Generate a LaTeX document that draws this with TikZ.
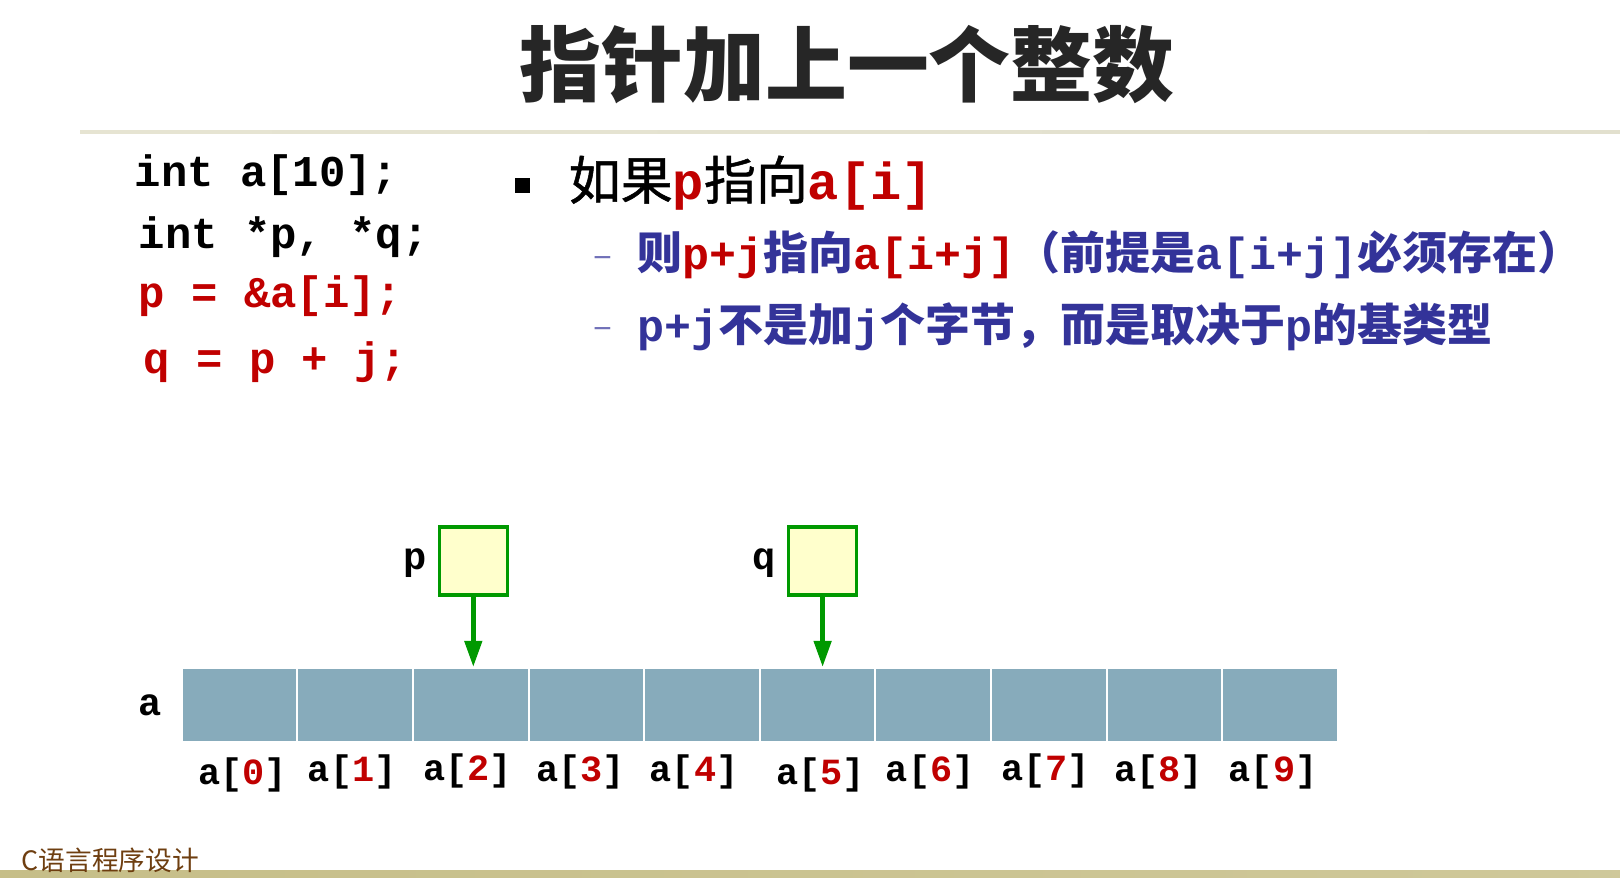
\documentclass[tikz,border=0pt]{standalone}
\usepackage{fontspec}
\setmainfont{Noto Sans CJK SC}
\setmonofont{Liberation Mono}
\newfontfamily\midcjk{Noto Sans CJK SC}[FakeBold=1]
\usepackage{tikz}
\usetikzlibrary{arrows.meta,positioning}
\definecolor{codered}{RGB}{192,0,0}
\definecolor{subblue}{RGB}{51,51,153}
\definecolor{ptrgreen}{RGB}{0,153,0}
\definecolor{ptrfill}{RGB}{255,255,204}
\definecolor{cellblue}{RGB}{135,171,187}
\definecolor{footbrown}{RGB}{110,62,16}
\definecolor{lineL}{RGB}{230,228,210}
\definecolor{lineM}{RGB}{168,158,98}
\definecolor{lineR}{RGB}{226,224,206}
\definecolor{barolive}{RGB}{198,190,136}
\definecolor{barlight}{RGB}{236,234,226}
\newcommand{\cd}[1]{{\ttfamily\bfseries #1}}
\newcommand{\rd}[1]{\textcolor{codered}{#1}}

\begin{document}
\begin{tikzpicture}[>=Stealth,every node/.style={inner sep=0pt},
  code/.style={anchor=west,font=\fontsize{12.5}{15}\ttfamily\bfseries},
  lbl/.style={font=\fontsize{11}{13}\ttfamily\bfseries},
  idx/.style={font=\fontsize{10.5}{12}\ttfamily\bfseries},
  cell/.style={fill=cellblue,draw=white,line width=0.6pt,
               minimum width=1.156cm,minimum height=0.74cm},
  ptrbox/.style={fill=ptrfill,draw=ptrgreen,line width=1pt,minimum size=0.68cm},
  ptrarrow/.style={ptrgreen,line width=1.3pt,-{Triangle[length=2.6mm,width=1.7mm]}}]
  \useasboundingbox (0,0) rectangle (16.2,8.78);
  % 标题与分隔线
  \node[font=\fontsize{23.3}{28}\selectfont\bfseries,text=black!85] (title) at (8.47,8.13) {指针加上一个整数};
  \shade[left color=lineL,middle color=lineM,right color=lineR] (0.80,7.44) rectangle (16.2,7.475);
  % 底部条与页脚
  \shade[left color=barolive,middle color=barlight,right color=barolive!85!white] (0,0) rectangle (16.2,0.07);
  \node[anchor=west,text=footbrown,font=\fontsize{7.6}{9}\selectfont] (foot) at (0.21,0.18) {C语言程序设计};
  % 左边代码
  \node[code] (decla) at (1.34,7.03) {int a[10];};
  \node[code] (declp) at (1.38,6.41) {int *p, *q;};
  \node[code,text=codered] (setp) at (1.38,5.82) {p = \&a[i];};
  \node[code,text=codered] (setq) at (1.43,5.16) {q = p + j;};
  % 右边要点
  \node[fill=black,minimum size=0.15cm] (bul) at (5.22,6.92) {};
  \node[anchor=west,font=\fontsize{14.8}{18}\midcjk] (pt) at (5.68,6.95) {如果\rd{\cd{p}}指向\rd{\cd{a[i]}}};
  \node[text=subblue!70,font=\fontsize{10}{12}\selectfont] (dasha) at (6.03,6.16) {–};
  \node[anchor=west,text=subblue,font=\fontsize{12.8}{15}\selectfont\bfseries] (suba) at (6.37,6.23)
    {则\rd{\cd{p+j}}指向\rd{\cd{a[i+j]}}（前提是\cd{a[i+j]}必须存在）};
  \node[text=subblue!70,font=\fontsize{10}{12}\selectfont] (dashb) at (6.03,5.45) {–};
  \node[anchor=west,text=subblue,font=\fontsize{12.8}{15}\selectfont\bfseries] (subb) at (6.37,5.51)
    {\cd{p+j}不是加\cd{j}个字节，而是取决于\cd{p}的基类型};
  % 数组 a
  \foreach \i in {0,...,9}
    \node[cell] (c\i) at ({2.396+1.156*\i},1.73) {};
  \foreach \i/\dx/\dy in {0/0.03/-0.03,1/-0.03/0,2/-0.03/0.01,3/-0.06/0,4/-0.08/0,
                          5/0.03/-0.03,6/-0.03/0,7/-0.03/0.01,8/-0.06/0,9/-0.07/0}
    \node[idx,below=0.11cm of c\i,xshift=\dx cm,yshift=\dy cm] (ix\i) {a[\rd{\i}]};
  \node[lbl,left=0.18cm of c0] (alab) {a};
  % 指针 p, q
  \node[ptrbox,above=0.70cm of c2,xshift=0.025cm] (pbox) {};
  \node[ptrbox,above=0.70cm of c5,xshift=0.05cm] (qbox) {};
  \node[lbl,left=0.1cm of pbox,yshift=-0.02cm] (plab) {p};
  \node[lbl,left=0.1cm of qbox,yshift=-0.02cm] (qlab) {q};
  \draw[ptrarrow] (pbox.south) -- (pbox.south |- c2.north);
  \draw[ptrarrow] (qbox.south) -- (qbox.south |- c5.north);
\end{tikzpicture}
\end{document}
